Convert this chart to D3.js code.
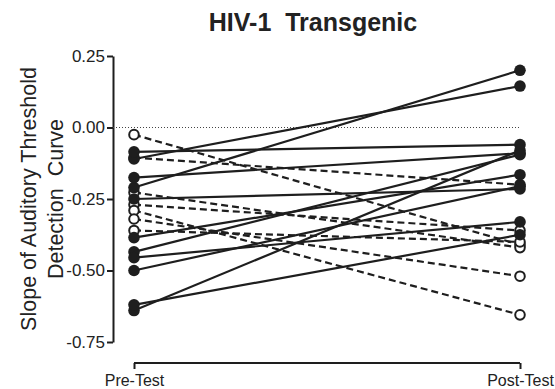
<!DOCTYPE html>
<html>
<head>
<meta charset="utf-8">
<script src="https://cdn.jsdelivr.net/npm/d3@7"></script>
<style>
  body { margin: 0; background: #fff; }
  text { font-family: "Liberation Sans", Arial, sans-serif; fill: #222; }
</style>
</head>
<body>
<div id="chart"></div>
<script>
// Pre / post slope per animal
const phases = ["Pre-Test", "Post-Test"];
const solidPre  = [-0.21, -0.11, -0.085, -0.175, -0.25, -0.64, -0.62, -0.50, -0.435, -0.385, -0.455];
const solidPost = [0.20, 0.145, -0.06, -0.09, -0.215, -0.08, -0.375, -0.205, -0.095, -0.165, -0.33];
const dashedPre  = [-0.025, -0.105, -0.227, -0.27, -0.29, -0.32, -0.36];
const dashedPost = [-0.41, -0.20, -0.42, -0.36, -0.655, -0.52, -0.40];
const yTicks = [0.25, 0, -0.25, -0.5, -0.75];

const W = 555, H = 389;
const svg = d3.select("#chart").append("svg")
  .attr("width", W).attr("height", H);

const x = d3.scalePoint().domain(phases).range([134, 520]);
const y = d3.scaleLinear().domain([-0.75, 0.25]).range([342, 56]);
const ink = "#1e1e1e";

// y axis
const yAxis = svg.append("g")
  .attr("transform", "translate(113,0)")
  .call(d3.axisLeft(y).tickValues(yTicks).tickSize(6).tickSizeOuter(0));
yAxis.select(".domain").attr("stroke", ink).attr("stroke-width", 2);
yAxis.selectAll(".tick line").attr("stroke", ink).attr("stroke-width", 2);
yAxis.selectAll(".tick text")
  .attr("x", -8).attr("font-size", 17)
  .text(d => d3.format(".2f")(d).replace("−", "-"));

// x axis
const xAxis = svg.append("g")
  .attr("transform", "translate(0,363)")
  .call(d3.axisBottom(x).tickSize(6).tickSizeOuter(0));
xAxis.select(".domain").remove();
xAxis.append("line")
  .attr("x1", x("Pre-Test")).attr("x2", x("Post-Test"))
  .attr("stroke", ink).attr("stroke-width", 2);
xAxis.selectAll(".tick line").attr("stroke", ink).attr("stroke-width", 2);
xAxis.selectAll(".tick text")
  .attr("y", 23).attr("dy", 0).attr("font-size", 16);

// zero reference
svg.append("line")
  .attr("x1", 113).attr("x2", x("Post-Test"))
  .attr("y1", y(0)).attr("y2", y(0))
  .attr("stroke", "#444").attr("stroke-width", 1)
  .attr("stroke-dasharray", "1,2");

const dashed = dashedPre.map((v, i) => [v, dashedPost[i]]);
const solid = solidPre.map((v, i) => [v, solidPost[i]]);
const line = d3.line().x((d, i) => x(phases[i])).y(d => y(d));

svg.append("g").selectAll("path").data(dashed).join("path")
  .attr("d", line).attr("fill", "none")
  .attr("stroke", ink).attr("stroke-width", 2.2)
  .attr("stroke-dasharray", "7,4");

svg.append("g").selectAll("path").data(solid).join("path")
  .attr("d", line).attr("fill", "none")
  .attr("stroke", ink).attr("stroke-width", 2.2);

// open markers
svg.append("g").selectAll("circle")
  .data(dashed.flatMap(p => p.map((v, i) => ({ v, i }))))
  .join("circle")
  .attr("cx", d => x(phases[d.i])).attr("cy", d => y(d.v))
  .attr("r", 4.8).attr("fill", "#fff")
  .attr("stroke", ink).attr("stroke-width", 2);

// filled markers
svg.append("g").selectAll("circle")
  .data(solid.flatMap(p => p.map((v, i) => ({ v, i }))))
  .join("circle")
  .attr("cx", d => x(phases[d.i])).attr("cy", d => y(d.v))
  .attr("r", 5.8).attr("fill", ink);

// title
svg.append("text")
  .attr("x", 313).attr("y", 31)
  .attr("text-anchor", "middle")
  .attr("font-size", 25).attr("font-weight", "bold")
  .style("white-space", "pre")
  .text("HIV-1  Transgenic");

// y label
const yl = svg.append("text")
  .attr("transform", "translate(0,199) rotate(-90)")
  .attr("text-anchor", "middle")
  .attr("font-size", 21.5)
  .style("white-space", "pre");
yl.append("tspan").attr("x", 0).attr("y", 36).text("Slope of Auditory Threshold");
yl.append("tspan").attr("x", 0).attr("y", 63).text("Detection  Curve");
</script>
</body>
</html>
